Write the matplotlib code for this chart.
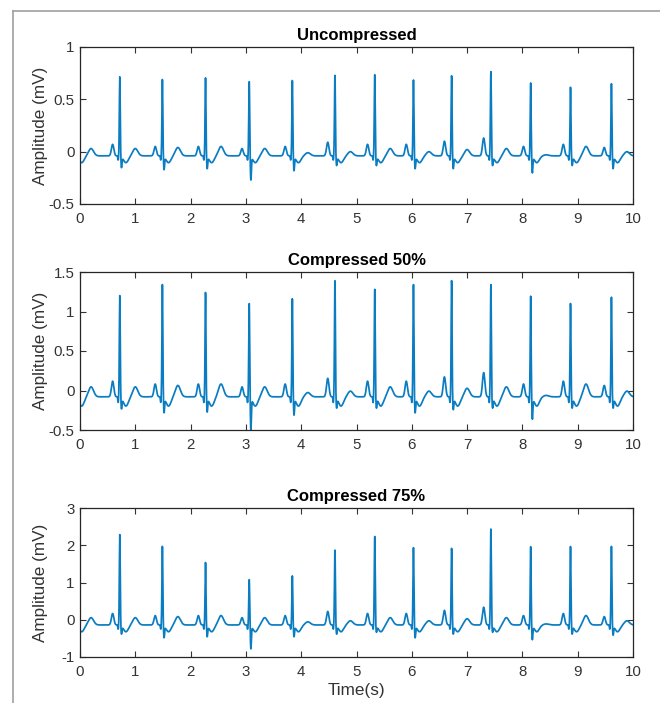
import numpy as np
import matplotlib
matplotlib.use("Agg")
import matplotlib.pyplot as plt
from matplotlib.lines import Line2D
from matplotlib.ticker import FuncFormatter

plt.rcParams['font.family'] = ['Liberation Sans', 'DejaVu Sans']

# R-peak times (s); first entry is the beat just before t=0
beat_t = [-0.08, 0.72, 1.49, 2.27, 3.06, 3.84, 4.61, 5.33, 6.03, 6.72, 7.43, 8.15, 8.87, 9.61]

# per-beat readings (mV) for each panel
r_unc = [0.70, 0.72, 0.70, 0.71, 0.68, 0.69, 0.74, 0.74, 0.69, 0.73, 0.77, 0.66, 0.62, 0.66]
s_unc = [-0.12, -0.14, -0.16, -0.15, -0.26, -0.17, -0.12, -0.12, -0.15, -0.15, -0.12, -0.19, -0.12, -0.15]
r_50 = [1.25, 1.21, 1.36, 1.25, 1.12, 1.18, 1.41, 1.29, 1.35, 1.40, 1.35, 1.20, 1.11, 1.20]
s_50 = [-0.20, -0.21, -0.26, -0.25, -0.48, -0.29, -0.20, -0.20, -0.26, -0.22, -0.20, -0.34, -0.20, -0.20]
r_75 = [2.00, 2.30, 2.00, 1.55, 1.10, 1.20, 1.90, 2.25, 1.95, 1.93, 2.45, 1.97, 1.98, 2.00]
s_75 = [-0.35, -0.35, -0.45, -0.42, -0.75, -0.42, -0.35, -0.30, -0.45, -0.35, -0.30, -0.50, -0.35, -0.38]

# P and T wave heights above baseline (uncompressed scale)
p_amp = [0.09, 0.11, 0.09, 0.09, 0.07, 0.09, 0.13, 0.11, 0.11, 0.14, 0.17, 0.09, 0.11, 0.08]
t_amp = [0.07, 0.07, 0.08, 0.09, 0.07, 0.03, 0.04, 0.07, 0.04, 0.06, 0.07, 0.01, 0.09, 0.04]

titles = ["Uncompressed", "Compressed 50%", "Compressed 75%"]
baselines = [-0.04, -0.08, -0.14]
wave_scale = [1.0, 1.8, 2.8]
ylims = [(-0.5, 1), (-0.5, 1.5), (-1, 3)]
yticks = [[-0.5, 0, 0.5, 1], [-0.5, 0, 0.5, 1, 1.5], [-1, 0, 1, 2, 3]]


def bump(t, c, w):
    return np.exp(-0.5 * ((t - c) / w) ** 2)


def build_trace(t, r_vals, s_vals, base, k):
    y = np.full_like(t, base)
    for tb, r, s, p, tw in zip(beat_t, r_vals, s_vals, p_amp, t_amp):
        y += p * k * bump(t, tb - 0.13, 0.022)
        y += -0.04 * k * bump(t, tb - 0.03, 0.006)
        y += (r - base) * bump(t, tb, 0.008)
        y += (s - base) * bump(t, tb + 0.03, 0.009)
        y += -0.065 * k * bump(t, tb + 0.11, 0.045)
        y += tw * k * bump(t, tb + 0.28, 0.045)
    return y


t = np.linspace(0, 10, 3601)
r_sets = [r_unc, r_50, r_75]
s_sets = [s_unc, s_50, s_75]

fig = plt.figure(figsize=(6.6, 7.03), dpi=100)
W, H = 660, 703
# axes boxes in pixels: (top, bottom)
boxes = [(47, 204), (272, 430), (508, 657)]
axes = []
for i, (top, bot) in enumerate(boxes):
    ax = fig.add_axes([80 / W, 1 - bot / H, 553 / W, (bot - top) / H])
    y = build_trace(t, r_sets[i], s_sets[i], baselines[i], wave_scale[i])
    ax.plot(t, y, color='#0a7cc2', lw=1.25)
    ax.set_xlim(0, 10)
    ax.set_ylim(*ylims[i])
    ax.set_xticks(range(0, 11))
    ax.set_yticks(yticks[i])
    ax.yaxis.set_major_formatter(FuncFormatter(lambda v, _: '%g' % v))
    ax.tick_params(direction='in', length=4, width=0.8, top=True, right=True,
                   labelsize=10.8, colors='#333333')
    ax.tick_params(axis='x', pad=5.5)
    ax.tick_params(axis='y', pad=4)
    for sp in ax.spines.values():
        sp.set_color('#262626')
        sp.set_linewidth(0.9)
    ax.set_title(titles[i], fontsize=12, fontweight='bold', pad=5, color='black')
    ax.set_ylabel("Amplitude (mV)", fontsize=12.3, color='#333333')
    ax.yaxis.set_label_coords(-0.058, 0.5)
    axes.append(ax)

axes[2].set_xlabel("Time(s)", fontsize=12.3, color='#333333')
axes[2].xaxis.set_label_coords(0.5, -0.175)

# outer grey frame of the screenshot
fig.add_artist(Line2D([13 / W, 13 / W], [0, 1 - 11 / H], transform=fig.transFigure,
                      color='#a0a0a0', lw=1.2))
fig.add_artist(Line2D([13 / W, 1], [1 - 11 / H, 1 - 11 / H], transform=fig.transFigure,
                      color='#a0a0a0', lw=1.2))

fig.savefig("out.png", dpi=100)
